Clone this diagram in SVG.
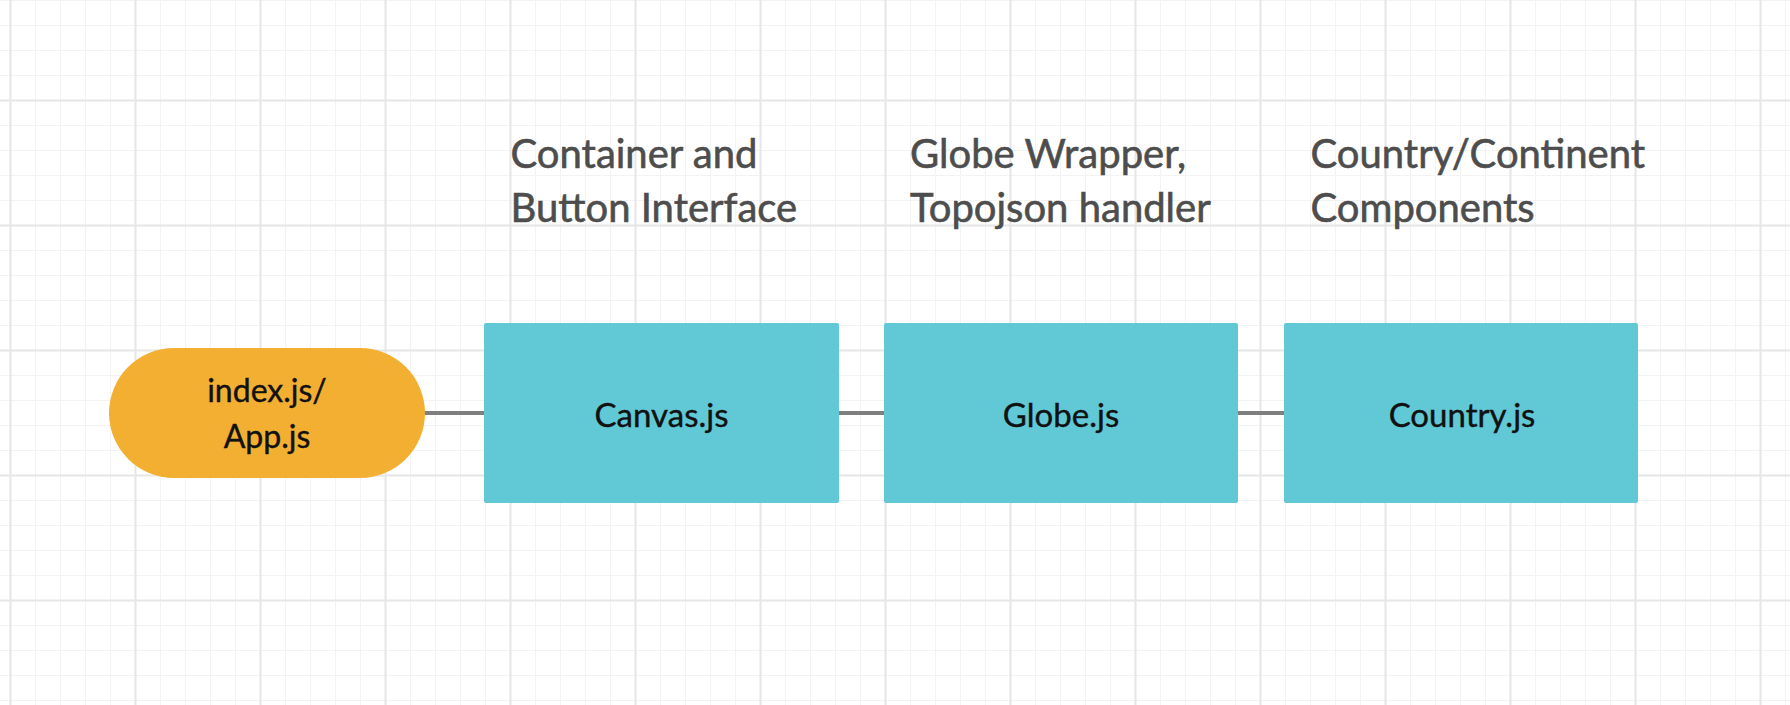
<svg xmlns="http://www.w3.org/2000/svg" width="1790" height="705" viewBox="0 0 1790 705">
  <style>
    .label { font-family: Lato, "Liberation Sans", sans-serif; font-size: 40px; fill: #4d4d4d; stroke: #4d4d4d; stroke-width: 0.6px; }
    .ntext { font-family: Lato, "Liberation Sans", sans-serif; font-size: 33px; fill: #111111; stroke: #111111; stroke-width: 0.4px; text-anchor: middle; }
    .box { fill: #61c8d6; }
    .pill { fill: #f3af31; }
    .conn { stroke: #7f7f7f; stroke-width: 4; stroke-linecap: round; fill: none; }
    .minor { stroke: #f3f3f3; stroke-width: 1; }
    .major { stroke: #e6e6e6; stroke-width: 2; }
  </style>
  <defs>
    <pattern id="grid" patternUnits="userSpaceOnUse" x="0" y="0" width="125" height="125">
      <path class="minor" d="M35.5 0V125M60.5 0V125M85.5 0V125M110.5 0V125M0 0.5H125M0 25.5H125M0 50.5H125M0 75.5H125"/>
      <path class="major" d="M10.5 0V125M0 100.5H125"/>
    </pattern>
  </defs>
  <rect width="1790" height="705" fill="#ffffff"/>
  <rect width="1790" height="705" fill="url(#grid)"/>

  <g id="connectors">
    <line class="conn" x1="424" y1="413" x2="486" y2="413"/>
    <line class="conn" x1="839" y1="413" x2="885" y2="413"/>
    <line class="conn" x1="1236" y1="413" x2="1285" y2="413"/>
  </g>

  <g id="node-app">
    <rect class="pill" x="109" y="348" width="316" height="130" rx="65" ry="65"/>
    <text class="ntext" x="267" y="401.5" style="font-size:32px">index.js/</text>
    <text class="ntext" x="267" y="448" style="font-size:32px">App.js</text>
  </g>

  <g id="node-canvas">
    <rect class="box" x="484" y="323" width="355" height="180" rx="2"/>
    <text class="ntext" x="661.5" y="427">Canvas.js</text>
  </g>
  <g id="label-canvas">
    <text class="label" x="510.5" y="168">Container and</text>
    <text class="label" x="510.5" y="222">Button Interface</text>
  </g>

  <g id="node-globe">
    <rect class="box" x="884" y="323" width="354" height="180" rx="2"/>
    <text class="ntext" x="1061" y="427">Globe.js</text>
  </g>
  <g id="label-globe">
    <text class="label" x="910" y="168">Globe Wrapper,</text>
    <text class="label" x="910" y="222">Topojson handler</text>
  </g>

  <g id="node-country">
    <rect class="box" x="1284" y="323" width="354" height="180" rx="2"/>
    <text class="ntext" x="1462" y="427">Country.js</text>
  </g>
  <g id="label-country">
    <text class="label" x="1310.5" y="168">Country/Continent</text>
    <text class="label" x="1310.5" y="222">Components</text>
  </g>
</svg>
